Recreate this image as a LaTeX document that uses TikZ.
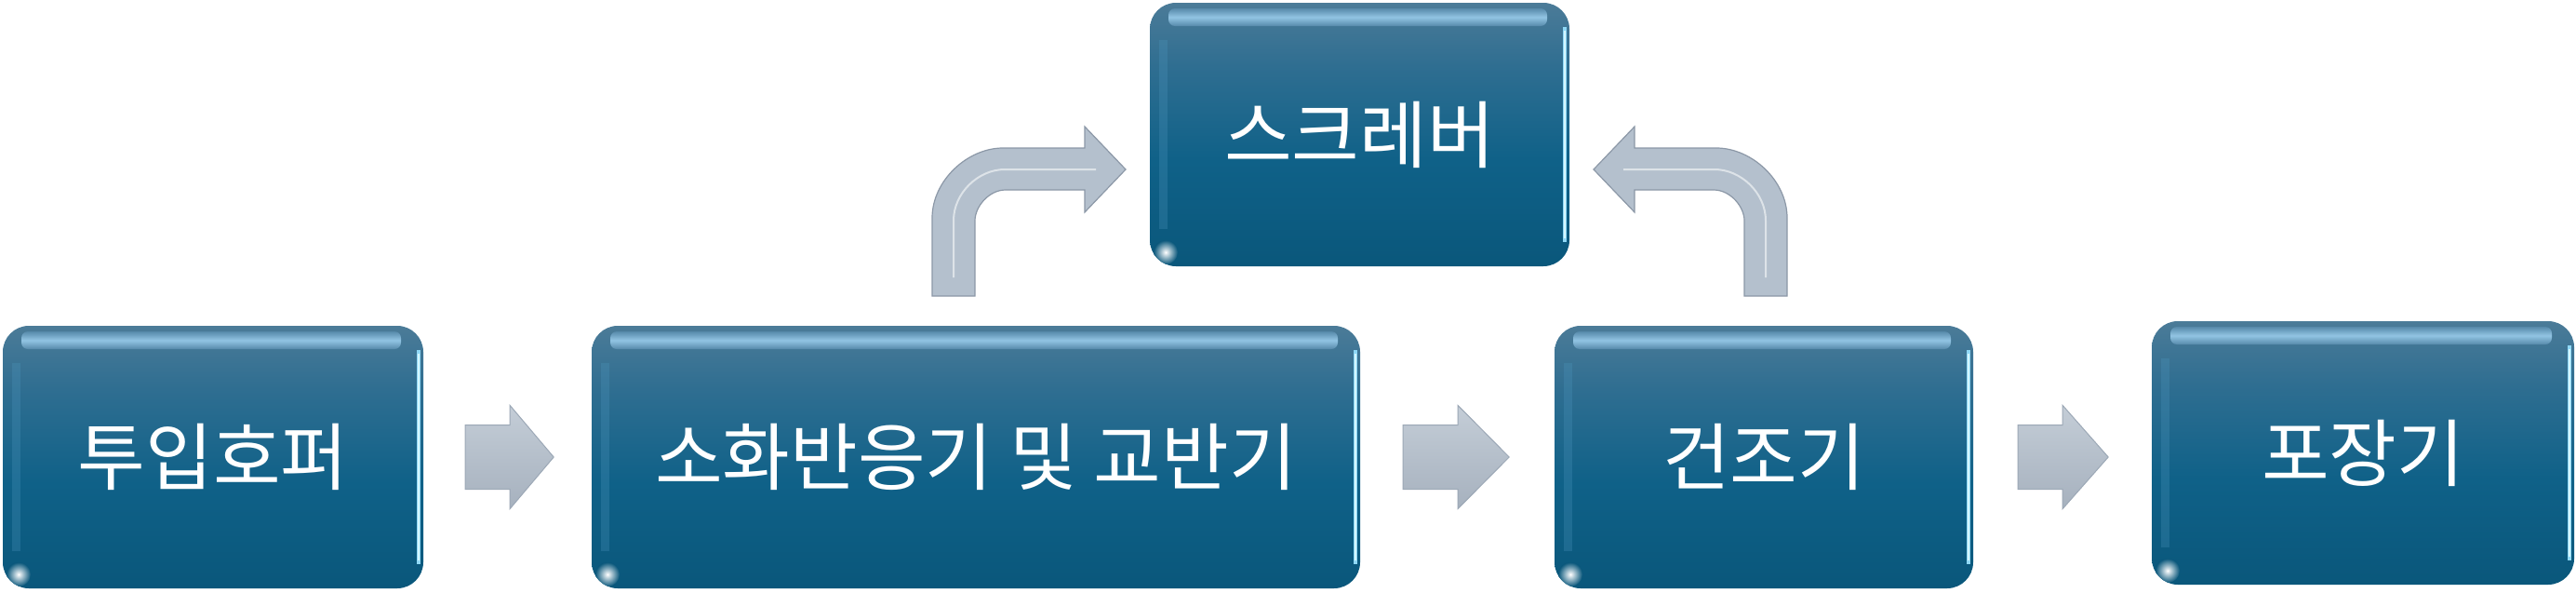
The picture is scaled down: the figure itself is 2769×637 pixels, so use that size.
\documentclass[tikz,border=0pt]{standalone}
\usepackage{fontspec}
\newfontfamily\krfont{Noto Sans CJK KR}
\usetikzlibrary{calc}
\definecolor{bxtop}{HTML}{4B7B98}
\definecolor{bxup}{HTML}{2F6E91}
\definecolor{bxmid}{HTML}{0F6188}
\definecolor{bxbot}{HTML}{0A577B}
\definecolor{hlA}{HTML}{5A8DAE}
\definecolor{hlB}{HTML}{A0D2F0}
\definecolor{rimA}{HTML}{8FD8F6}
\definecolor{rimB}{HTML}{D4F6FF}
\definecolor{lband}{HTML}{4F97BF}
\definecolor{arrtop}{HTML}{C4CDD7}
\definecolor{arrbot}{HTML}{A6B1BE}
\definecolor{arredge}{HTML}{9CA8B6}
\definecolor{bentfill}{HTML}{B4C0CD}
\definecolor{bentedge}{HTML}{8C98A7}
\pgfdeclareverticalshading{boxshade}{100bp}{color(0bp)=(bxbot); color(25bp)=(bxbot); color(45bp)=(bxmid); color(63bp)=(bxup); color(75bp)=(bxtop); color(100bp)=(bxtop)}
\tikzset{
  procbox/.style={shade, shading=boxshade, rounded corners=28pt, inner sep=0pt,
    minimum height=282pt, text=white, font=\krfont\fontsize{79}{84}\selectfont,
    path picture={
      \draw[line width=9pt, lband, opacity=0.28]
        ($(path picture bounding box.north west)+(14pt,-40pt)$) --
        ($(path picture bounding box.south west)+(14pt,40pt)$);
      \shade[top color=hlA, bottom color=hlA, middle color=hlB, opacity=0.85, rounded corners=7pt]
        ($(path picture bounding box.north west)+(20pt,-6pt)$) rectangle
        ($(path picture bounding box.north east)+(-24pt,-25pt)$);
      \draw[line width=4pt, rimA]
        ($(path picture bounding box.north east)+(-5pt,-26pt)$) --
        ($(path picture bounding box.south east)+(-5pt,26pt)$);
      \draw[line width=1.5pt, rimB]
        ($(path picture bounding box.north east)+(-5pt,-30pt)$) --
        ($(path picture bounding box.south east)+(-5pt,30pt)$);
      \shade[inner color=white, outer color=bxbot]
        ($(path picture bounding box.south west)+(17pt,15pt)$) circle (13pt);
    }},
  blk/.style={draw=arredge, line width=1pt, top color=arrtop, bottom color=arrbot},
  bent/.style={fill=bentfill, draw=bentedge, line width=1.2pt},
  bentline/.style={draw=white!55!bentfill, line width=2pt}
}
\begin{document}
\begin{tikzpicture}[x=1pt,y=-1pt]
\useasboundingbox (0,0) rectangle (2769,637);
% process boxes
\node[procbox, minimum width=452pt] (b1) at (229,491) {투입호퍼};
\node[procbox, minimum width=826pt] (b2) at (1049,491) {소화반응기 및 교반기};
\node[procbox, minimum width=450pt] (b3) at (1896,491) {건조기};
\node[procbox, minimum width=454pt, minimum height=283pt] (b4) at (2540,486.5) {포장기};
\node[procbox, minimum width=451pt, minimum height=283pt] (top) at (1461.5,144.5) {스크레버};
% straight block arrows
\draw[blk] ($(b1.east)+(45pt,34.5pt)$) -- ++(48,0) -- ++(0,-21) -- ++(47,55.5) -- ++(-47,55.5) -- ++(0,-21) -- ++(-48,0) -- cycle;
\draw[blk] ($(b2.east)+(46pt,34.5pt)$) -- ++(59,0) -- ++(0,-21) -- ++(55,55.5) -- ++(-55,55.5) -- ++(0,-21) -- ++(-59,0) -- cycle;
\draw[blk] ($(b3.east)+(48pt,34.5pt)$) -- ++(48,0) -- ++(0,-21) -- ++(49,55.5) -- ++(-49,55.5) -- ++(0,-21) -- ++(-48,0) -- cycle;
% bent arrow left (b2 -> top)
\draw[bent] (1002,318) -- (1002,234) .. controls (1002,194) and (1040,159) .. (1078,159)
  -- (1166,159) -- (1166,136) -- (1210,182) -- (1166,228) -- (1166,204) -- (1081,204)
  .. controls (1063,204) and (1048,222) .. (1048,237) -- (1048,318) -- cycle;
\draw[bentline] (1025,298) -- (1025,237) .. controls (1025,207) and (1052,182) .. (1080,182) -- (1178,182);
% bent arrow right (b3 -> top)
\draw[bent] (1921,318) -- (1921,234) .. controls (1921,194) and (1883,159) .. (1845,159)
  -- (1757,159) -- (1757,136) -- (1713,182) -- (1757,228) -- (1757,204) -- (1842,204)
  .. controls (1860,204) and (1875,222) .. (1875,237) -- (1875,318) -- cycle;
\draw[bentline] (1898,298) -- (1898,237) .. controls (1898,207) and (1871,182) .. (1843,182) -- (1745,182);
\end{tikzpicture}
\end{document}
